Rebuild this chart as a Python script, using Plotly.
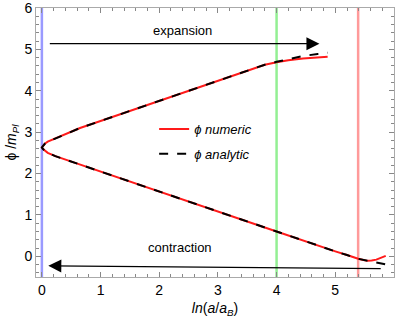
import plotly.graph_objects as go

# Trajectory: from contraction end (right, lower branch) to bounce and out along upper branch
num_x = [5.86, 5.78, 5.70, 5.62, 5.55, 5.48, 5.39, 5.2, 5.0, 4.0, 3.0, 2.0, 1.0, 0.65, 0.4, 0.23, 0.1, 0.05, 0.02, 0.0,
         0.02, 0.05, 0.1, 0.23, 0.4, 0.65, 1.0, 2.0, 3.0, 3.5, 3.8, 4.0, 4.2, 4.45, 4.7, 4.87]
num_y = [0.01, -0.04, -0.08, -0.10, -0.11, -0.09, -0.06, 0.03, 0.12, 0.60, 1.08, 1.56, 2.04, 2.21, 2.33, 2.42, 2.50, 2.55, 2.59, 2.63,
         2.68, 2.72, 2.77, 2.85, 2.96, 3.10, 3.27, 3.76, 4.24, 4.49, 4.63, 4.69, 4.74, 4.78, 4.81, 4.82]

ana_x = [5.85, 5.72, 5.60, 5.48, 5.39, 5.2, 5.0, 4.0, 3.0, 2.0, 1.0, 0.65, 0.4, 0.23, 0.1, 0.05, 0.02, 0.0,
         0.02, 0.05, 0.1, 0.23, 0.4, 0.65, 1.0, 2.0, 3.0, 3.5, 3.8, 4.0, 4.2, 4.45, 4.7, 4.87]
ana_y = [-0.19, -0.15, -0.12, -0.09, -0.06, 0.03, 0.12, 0.60, 1.08, 1.56, 2.04, 2.21, 2.33, 2.42, 2.50, 2.55, 2.59, 2.63,
         2.68, 2.72, 2.77, 2.85, 2.96, 3.10, 3.27, 3.76, 4.24, 4.49, 4.63, 4.70, 4.77, 4.84, 4.89, 4.92]

vline_x = [0.0, 4.0, 5.39]
vline_colors = ["rgba(120,120,255,0.75)", "rgba(120,235,120,0.8)", "rgba(255,120,120,0.75)"]

# arrows: (tail_x, tail_y, tip_x, tip_y)
expansion_arrow = (0.11, 5.14, 4.73, 5.14)
contraction_arrow = (5.80, -0.30, 0.11, -0.23)
labels = [("expansion", 2.39, 5.46), ("contraction", 2.35, 0.21)]

fig = go.Figure()

for vx, vc in zip(vline_x, vline_colors):
    fig.add_vline(x=vx, line=dict(color=vc, width=2.5), layer="below")

fig.add_trace(go.Scatter(x=num_x, y=num_y, mode="lines", name="<i>ϕ numeric</i>", legendgroup="a",
                         line=dict(color="#ff1a1a", width=2)))
fig.add_trace(go.Scatter(x=ana_x, y=ana_y, mode="lines", name="<i>ϕ analytic</i>", legendgroup="b",
                         line=dict(color="black", width=2, dash="dash")))

for tx, ty, hx, hy in [expansion_arrow, contraction_arrow]:
    fig.add_annotation(x=hx, y=hy, ax=tx, ay=ty, xref="x", yref="y", axref="x", ayref="y",
                       text="", showarrow=True, arrowhead=2, arrowsize=2.0, arrowwidth=1.3,
                       arrowcolor="black")
for txt, lx, ly in labels:
    fig.add_annotation(x=lx, y=ly, xref="x", yref="y", text=txt, showarrow=False,
                       font=dict(size=13, color="black"))

axis_common = dict(showgrid=False, zeroline=False, showline=True, linecolor="#aaaaaa",
                   linewidth=1, mirror="allticks", ticks="inside", ticklen=5, tickcolor="#888888",
                   tickfont=dict(size=14, color="black"), automargin=False,
                   minor=dict(ticks="inside", ticklen=3, tickcolor="#888888", dtick=0.2))

fig.update_xaxes(range=[-0.1, 6.001], dtick=1, tick0=0,
                 title=dict(text="<i>ln</i>(<i>a</i>/<i>a</i><sub><i>B</i></sub>)",
                            font=dict(size=14, color="black"), standoff=6),
                 **axis_common)
fig.update_yaxes(range=[-0.5, 6.001], dtick=1, tick0=0, ticklabeloverflow="allow",
                 title=dict(text="ϕ /<i>m</i><sub><i>Pl</i></sub>",
                            font=dict(size=14, color="black"), standoff=4),
                 **axis_common)

fig.update_layout(
    width=398, height=323,
    margin=dict(l=36, r=4, t=8, b=46),
    paper_bgcolor="white", plot_bgcolor="white",
    font=dict(family="Liberation Sans, Arial, sans-serif", color="black"),
    showlegend=True,
    legend=dict(x=0.33, y=0.606, xanchor="left", yanchor="top", bgcolor="rgba(0,0,0,0)",
                font=dict(size=13), tracegroupgap=5, traceorder="grouped"),
)

fig.write_html("out.html", config={"displayModeBar": False},
               post_script="document.body.style.margin='0px';document.body.style.padding='0px';")
